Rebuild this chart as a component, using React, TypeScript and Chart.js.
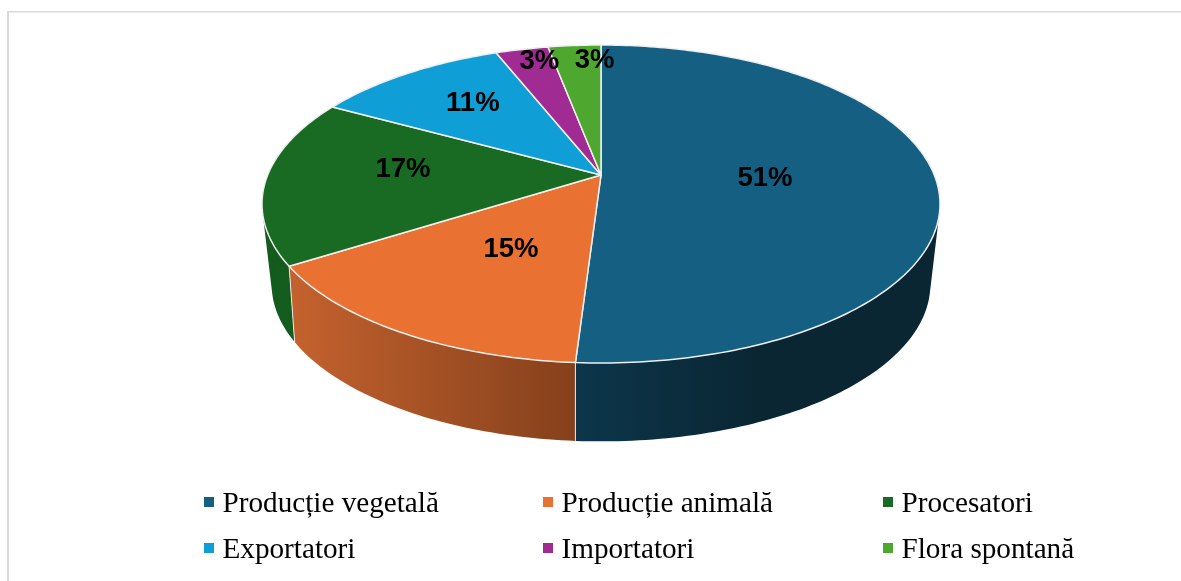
import { useEffect, useRef } from "react";
import { Chart, registerables } from "chart.js";

Chart.register(...registerables);

const categories = [
  "Producție vegetală",
  "Producție animală",
  "Procesatori",
  "Exportatori",
  "Importatori",
  "Flora spontană",
];
const shares = [51, 15, 17, 11, 3, 3];
const topColors = ["#156082", "#E97132", "#196B24", "#0F9ED5", "#A02B93", "#4EA72E"];
const wallShades: [string, string][] = [
  ["#0C364B", "#0A2633"],
  ["#C4622E", "#85401B"],
  ["#145A1E", "#14601F"],
  ["#0B6E95", "#0B6E95"],
  ["#701E67", "#701E67"],
  ["#367520", "#367520"],
];

// Perspective model of the disc: the top rim and the bottom rim each get a homography.
const CX = 601;
const TOP = { r: 333.3, k: -0.1824, a: 153.7, c: 175 };
const BOTTOM = { r: 322, k: -0.21, a: 150, c: 251.5 };
type Plane = typeof TOP;
type Pt = [number, number];

const project = (p: Plane, angle: number, radius = 1): Pt => {
  const ux = Math.cos(angle) * radius;
  const uy = Math.sin(angle) * radius;
  const w = 1 + p.k * uy;
  return [CX + (p.r * ux) / w, p.c + (p.a * uy) / w];
};

// Adds a quad to the current path, always wound the same way so that
// the non-zero fill rule gives a seamless union.
const addQuad = (ctx: CanvasRenderingContext2D, q: Pt[]) => {
  let area = 0;
  q.forEach((p, i) => {
    const n = q[(i + 1) % q.length];
    area += p[0] * n[1] - n[0] * p[1];
  });
  const pts = area < 0 ? [...q].reverse() : q;
  ctx.moveTo(...pts[0]);
  pts.slice(1).forEach((p) => ctx.lineTo(...p));
  ctx.closePath();
};

// Pixel nudges that lift each percentage off its mid-radius anchor.
const labelNudges: Pt[] = [
  [-3, 1.5],
  [2, 2.5],
  [-31, -8],
  [-25, -17.5],
  [-19, -45.5],
  [8, -44],
];

const LEGEND_COLUMNS = [204, 543, 883];
const LEGEND_ROWS = [502, 548];

const perspectivePie = {
  id: "perspectivePie",
  beforeDatasetsDraw(chart: any) {
    const ctx: CanvasRenderingContext2D = chart.ctx;
    const arcs = chart.getDatasetMeta(0).data;
    const STEP = Math.PI / 180;

    // Side wall, painted back to front so nearer slices cover farther ones.
    const order = arcs
      .map((_: any, i: number) => i)
      .sort((a: number, b: number) => {
        const mid = (e: any) => Math.sin((e.startAngle + e.endAngle) / 2);
        return mid(arcs[a]) - mid(arcs[b]);
      });
    order.forEach((i: number) => {
      const { startAngle, endAngle } = arcs[i];
      const n = Math.max(2, Math.ceil((endAngle - startAngle) / STEP));
      const top: Pt[] = [];
      const bottom: Pt[] = [];
      for (let s = 0; s <= n; s++) {
        const t = startAngle + ((endAngle - startAngle) * s) / n;
        top.push(project(TOP, t));
        bottom.push(project(BOTTOM, t));
      }
      const xs = [...top, ...bottom].map((q) => q[0]);
      const grad = ctx.createLinearGradient(Math.min(...xs), 0, Math.max(...xs), 0);
      grad.addColorStop(0, wallShades[i][0]);
      // The large slice's shading only varies on its near-left part.
      if (i === 0) grad.addColorStop(0.5, wallShades[i][1]);
      grad.addColorStop(1, wallShades[i][1]);
      ctx.fillStyle = grad;
      ctx.beginPath();
      for (let s = 0; s < n; s++) {
        addQuad(ctx, [top[s], top[s + 1], bottom[s + 1], bottom[s]]);
      }
      ctx.fill();
    });

    // Seams on the visible part of the wall.
    ctx.strokeStyle = "#E8E8E8";
    ctx.lineWidth = 1;
    arcs.forEach((e: any) => {
      const a = e.endAngle;
      if (Math.sin(a) < 0.2) return;
      const [x0, y0] = project(TOP, a);
      const [x1, y1] = project(BOTTOM, a);
      ctx.beginPath();
      ctx.moveTo(x0, y0);
      ctx.lineTo(x1, y1);
      ctx.stroke();
    });

    // Top face.
    arcs.forEach((e: any, i: number) => {
      const { startAngle, endAngle } = e;
      const n = Math.max(2, Math.ceil((endAngle - startAngle) / STEP));
      ctx.beginPath();
      ctx.moveTo(...project(TOP, 0, 0));
      for (let s = 0; s <= n; s++) {
        ctx.lineTo(...project(TOP, startAngle + ((endAngle - startAngle) * s) / n));
      }
      ctx.closePath();
      ctx.fillStyle = topColors[i];
      ctx.fill();
      ctx.strokeStyle = "#EFEFEF";
      ctx.lineWidth = 1.5;
      ctx.lineJoin = "round";
      ctx.stroke();
    });

    // The built-in flat arcs are replaced by the projected ones above.
    return undefined;
  },
  beforeDatasetDraw() {
    return false;
  },
  afterDatasetsDraw(chart: any) {
    const ctx: CanvasRenderingContext2D = chart.ctx;
    const arcs = chart.getDatasetMeta(0).data;
    const values: number[] = chart.data.datasets[0].data;
    const total = values.reduce((a, b) => a + b, 0);

    ctx.save();
    ctx.fillStyle = "#000000";
    ctx.font = 'bold 27.5px "Liberation Sans"';
    ctx.textAlign = "center";
    ctx.textBaseline = "middle";
    arcs.forEach((e: any, i: number) => {
      const [x, y] = project(TOP, (e.startAngle + e.endAngle) / 2, 0.5);
      const [dx, dy] = labelNudges[i];
      ctx.fillText(`${Math.round((values[i] / total) * 100)}%`, x + dx, y + dy);
    });

    // Two-row legend on a fixed three-column grid.
    ctx.textAlign = "left";
    ctx.textBaseline = "alphabetic";
    ctx.font = '29.2px "Liberation Serif"';
    (chart.data.labels as string[]).forEach((label, i) => {
      const col = LEGEND_COLUMNS[i % 3];
      const row = LEGEND_ROWS[Math.floor(i / 3)];
      ctx.fillStyle = topColors[i];
      ctx.fillRect(col, row - 5, 10, 10);
      ctx.fillStyle = "#000000";
      ctx.fillText(label, col + 18.5, row + 9.5);
    });

    // Thin frame along the top and left edges.
    ctx.fillStyle = "#D9D9D9";
    ctx.fillRect(7, 11, 1174, 1.5);
    ctx.fillRect(7, 11, 2, 570);
    ctx.restore();
  },
};

export default function App() {
  const canvasRef = useRef<HTMLCanvasElement>(null);

  useEffect(() => {
    const chart = new Chart(canvasRef.current!, {
      type: "pie",
      data: {
        labels: categories,
        datasets: [{ data: shares, backgroundColor: topColors, borderWidth: 0 }],
      },
      options: {
        responsive: false,
        animation: false,
        plugins: { legend: { display: false }, tooltip: { enabled: false } },
      },
      plugins: [perspectivePie],
    });
    return () => chart.destroy();
  }, []);

  return (
    <canvas
      ref={canvasRef}
      width={1181}
      height={581}
      style={{ position: "absolute", left: 0, top: 0, display: "block" }}
    />
  );
}
